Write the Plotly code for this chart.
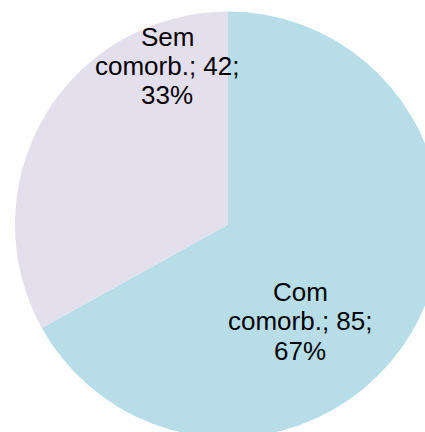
import plotly.graph_objects as go

labels = ["Com comorb.", "Sem comorb."]
values = [85, 42]
colors = ["#b7dee8", "#e4dfec"]

W, H = 460, 450
cx, cy, r = 228, 224.5, 213
# label block centres (pixels, from top-left) and line spacing
label_centres = [(300, 321), (167, 66)]
line_gap = 29.5
font_size = 26

total = sum(values)

fig = go.Figure(go.Pie(
    labels=labels,
    values=values,
    sort=False,
    direction="clockwise",
    rotation=0,
    marker=dict(colors=colors, line=dict(width=0)),
    textposition="none",
    hoverinfo="label+value+percent",
    showlegend=False,
    domain=dict(x=[(cx - r) / W, (cx + r) / W], y=[(H - cy - r) / H, (H - cy + r) / H]),
))

annotations = []
for lab, val, (px, py) in zip(labels, values, label_centres):
    first, second = lab.split(" ", 1)
    lines = [first, f"{second}; {val};", f"{round(100 * val / total)}%"]
    for i, line in enumerate(lines):
        y = py + (i - 1) * line_gap
        annotations.append(dict(
            x=px / W, y=1 - y / H, xref="paper", yref="paper",
            text=line, showarrow=False, xanchor="center", yanchor="middle",
            font=dict(family="Liberation Sans, Arial", size=font_size, color="black"),
        ))

fig.update_layout(
    width=W, height=H,
    margin=dict(l=0, r=0, t=0, b=0),
    paper_bgcolor="white",
    plot_bgcolor="white",
    annotations=annotations,
)
fig.write_html(
    "out.html",
    config={"displayModeBar": False},
    post_script="document.body.style.margin='0';document.body.style.overflow='hidden';document.documentElement.style.overflow='hidden';",
)
